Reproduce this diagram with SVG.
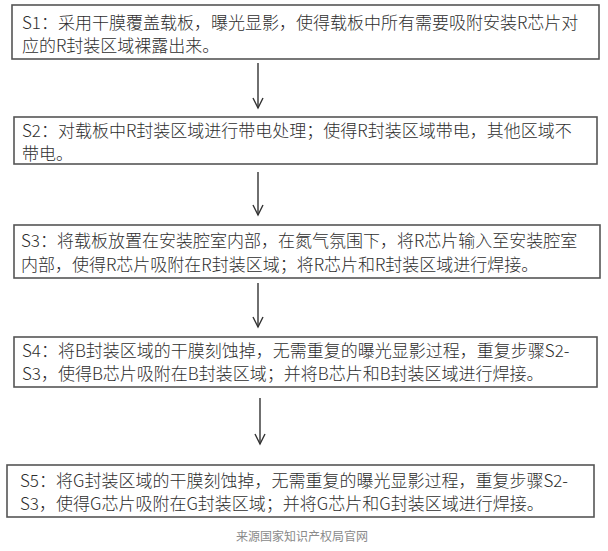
<svg xmlns="http://www.w3.org/2000/svg" width="608" height="551" viewBox="0 0 608 551">
<defs>
<marker id="ah" markerWidth="14" markerHeight="12" refX="12" refY="6" orient="auto" markerUnits="userSpaceOnUse" viewBox="0 0 14 12">
<path d="M2,1 L12,6 L2,11" fill="none" stroke="#333" stroke-width="1.4"/>
</marker>
</defs>
<style>
.box{fill:#fff;stroke:#555;stroke-width:1.6}
.t{font-family:"Noto Sans CJK SC","Noto Sans",sans-serif;font-size:17px;font-weight:300;fill:#2e2e2e}
.cap{font-family:"Noto Sans CJK SC","Noto Sans",sans-serif;font-size:12px;fill:#8a8a8a}
.c{stroke:#333;stroke-width:1.4;fill:none;marker-end:url(#ah)}
</style>
<rect width="608" height="551" fill="#fff"/>
<g id="connectors">
<line class="c" x1="258" y1="63" x2="258" y2="108"/>
<line class="c" x1="258" y1="172" x2="258" y2="215"/>
<line class="c" x1="258" y1="283" x2="258" y2="327"/>
<line class="c" x1="260" y1="398" x2="260" y2="444"/>
</g>
<g id="s1">
<rect class="box" x="12" y="5" width="587" height="54"/>
<text class="t" x="22" y="28.5">S1：采用干膜覆盖载板，曝光显影，使得载板中所有需要吸附安装R芯片对</text>
<text class="t" x="22" y="52">应的R封装区域裸露出来。</text>
</g>
<g id="s2">
<rect class="box" x="14" y="117" width="583" height="47"/>
<text class="t" x="22" y="136.5">S2：对载板中R封装区域进行带电处理；使得R封装区域带电，其他区域不</text>
<text class="t" x="22" y="159.5">带电。</text>
</g>
<g id="s3">
<rect class="box" x="14" y="225" width="586" height="53"/>
<text class="t" x="21" y="246.5">S3：将载板放置在安装腔室内部，在氮气氛围下，将R芯片输入至安装腔室</text>
<text class="t" x="21" y="270.5">内部，使得R芯片吸附在R封装区域；将R芯片和R封装区域进行焊接。</text>
</g>
<g id="s4">
<rect class="box" x="14" y="337" width="583" height="50"/>
<text class="t" x="22" y="356.5">S4：将B封装区域的干膜刻蚀掉，无需重复的曝光显影过程，重复步骤S2-</text>
<text class="t" x="22" y="379.5">S3，使得B芯片吸附在B封装区域；并将B芯片和B封装区域进行焊接。</text>
</g>
<g id="s5">
<rect class="box" x="7" y="465" width="587" height="52"/>
<text class="t" x="20" y="486.5">S5：将G封装区域的干膜刻蚀掉，无需重复的曝光显影过程，重复步骤S2-</text>
<text class="t" x="20" y="509.5">S3，使得G芯片吸附在G封装区域；并将G芯片和G封装区域进行焊接。</text>
</g>
<text class="cap" x="302" y="541" text-anchor="middle">来源国家知识产权局官网</text>
</svg>
